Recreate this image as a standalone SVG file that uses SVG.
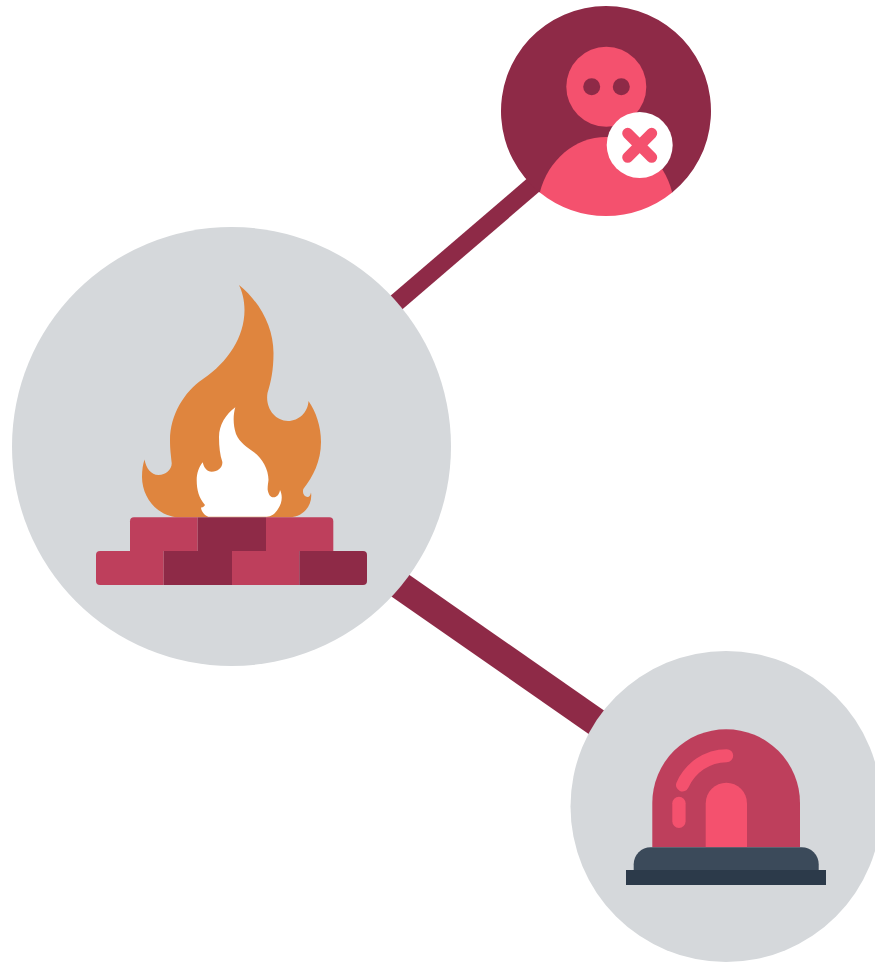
<svg xmlns="http://www.w3.org/2000/svg" width="875" height="962" viewBox="0 0 875 962">
<style>
.grey{fill:#d5d8db}.dark{fill:#8e2a47}.brick{fill:#be3f5c}.pink{fill:#f4516e}.orange{fill:#df853e}.white{fill:#fff}
.link{stroke:#8e2a47;fill:none}
</style>
<rect width="875" height="962" fill="#fff"/>
<g id="connectors">
<line class="link" x1="380" y1="316.600" x2="550" y2="170.700" stroke-width="18"/>
<line class="link" x1="380" y1="571.400" x2="620" y2="738.700" stroke-width="28"/>
</g>
<g id="node-firewall">
<circle class="grey" cx="231.500" cy="446.500" r="219.500"/>
<path class="orange" d="M239,285 C260,302 273.500,327 273.500,353 C273.500,370 271,382 267.500,393 C265,408 275,421 288,421 C299,421 308,412 308.500,401 C316,412 321,426 321,442 C321,461 313,477 303.300,489 C302,494 305,497 307.500,497 C309.500,497 310.500,495 311,492.500 C313,505 303,517.300 290,517.300 L180,517.300 C158,517.300 142,498 142,477 C142,470 143,464 144.500,459.500 C146,468 151,475 158.500,475 C166,475 172,469 171.700,463 C171,455 170,450 170,440 C170,415 184,392 203,379 C228,362 244.500,337 244.500,310 C244.500,300 242,291 239,285 Z"/>
<path class="white" d="M235.300,407.300 C233,415 233,425 236,434 C240,443 247,447 253.300,451.700 C262,458 268.500,469 268.500,480 C268,484 267.500,487 267.700,490 C268.500,494 270,497.300 273.500,497.300 C277,497.300 279.500,494 280,490 C283,496 282,503 278,509 C275,514 271,516.700 266.700,516.700 L208.300,516.700 C204,515 201,511 201,507.300 C202,508 204,507 205,505 C199,498 196.700,490 196.700,480 C196.700,473 199,467 202.700,462.300 C204,468 207,471.700 211.700,471.700 C218,471.700 223,467 222.300,461.700 C220,455 219,447 219,437 C219,425 226,414 235.300,407.300 Z"/>
<path class="brick" d="M197.700,517.300 H134 a4,4 0 0 0 -4,4 V551 H197.700 Z"/>
<rect class="dark" x="197.700" y="517.300" width="68.300" height="33.700"/>
<path class="brick" d="M266,517.300 H329.300 a4,4 0 0 1 4,4 V551 H266 Z"/>
<path class="brick" d="M163.700,551 H100 a4,4 0 0 0 -4,4 V581 a4,4 0 0 0 4,4 H163.700 Z"/>
<rect class="dark" x="163.700" y="551" width="68.300" height="34"/>
<rect class="brick" x="232" y="551" width="67.300" height="34"/>
<path class="dark" d="M299.300,551 H363 a4,4 0 0 1 4,4 V581 a4,4 0 0 1 -4,4 H299.300 Z"/>
</g>
<g id="node-user">
<path class="dark" d="M539.800,192.500 A105,105 0 1 1 672.200,192.500 Z"/>
<circle class="pink" cx="606.300" cy="86.700" r="40"/>
<circle class="dark" cx="591.700" cy="86.700" r="8.500"/>
<circle class="dark" cx="621.300" cy="86.700" r="8.500"/>
<path class="pink" d="M539.800,192.500 C548,160 575,137 606,137 C637,137 664,160 672.200,192.500 A105,105 0 0 1 539.800,192.500 Z"/>
<circle class="white" cx="639.700" cy="145" r="33"/>
<path d="M627.700,133.300 L651.700,157.300 M651.700,133.300 L627.700,157.300" stroke="#f4516e" stroke-width="11" stroke-linecap="round" fill="none"/>
</g>
<g id="node-alarm">
<circle class="grey" cx="726" cy="806.500" r="155.500"/>
<path class="brick" d="M652.300,847.300 V803 A73.850,73.850 0 0 1 800,803 V847.300 Z"/>
<path class="pink" d="M705.700,847.300 V803.400 A20.650,20.650 0 0 1 747,803.400 V847.300 Z"/>
<path d="M682.500,785 C690,768 707,755.700 726.700,755.700" fill="none" stroke="#f4516e" stroke-width="13" stroke-linecap="round"/>
<rect class="pink" x="672.300" y="796.700" width="13.300" height="31.300" rx="6.650"/>
<path d="M633.700,870 V864.300 A17,17 0 0 1 650.700,847.300 H801.700 A17,17 0 0 1 818.700,864.300 V870 Z" fill="#3b4a5a"/>
<rect x="626" y="870" width="200" height="15" fill="#2c3a4a"/>
</g>
</svg>
